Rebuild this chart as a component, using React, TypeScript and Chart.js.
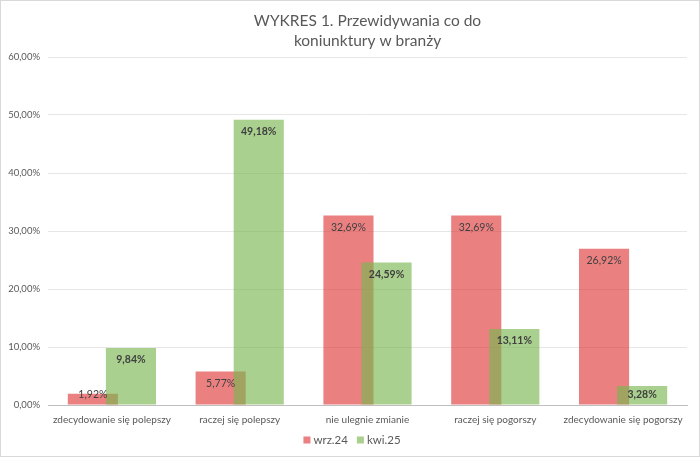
import React, { useEffect, useRef } from "react";
import { Chart, registerables } from "chart.js";

Chart.register(...registerables);

const categories = [
  "zdecydowanie się polepszy",
  "raczej się polepszy",
  "nie ulegnie zmianie",
  "raczej się pogorszy",
  "zdecydowanie się pogorszy",
];
const seriesNames = ["wrz.24", "kwi.25"];
const wrz24 = [1.92, 5.77, 32.69, 32.69, 26.92];
const kwi25 = [9.84, 49.18, 24.59, 13.11, 3.28];
const titleLines = ["WYKRES 1. Przewidywania co do", "koniunktury w branży"];
const yMax = 60;
const yStep = 10;

const FONT = "Lato, 'Open Sans', sans-serif";
const fmt = (v: number) => v.toFixed(2).replace(".", ",") + "%";

const titlePlugin = {
  id: "customTitle",
  afterDraw(chart: any) {
    const { ctx, chartArea } = chart;
    ctx.save();
    ctx.fillStyle = "#595959";
    ctx.font = `15.5px ${FONT}`;
    ctx.textAlign = "center";
    ctx.textBaseline = "middle";
    const cx = (chartArea.left + chartArea.right) / 2;
    titleLines.forEach((line, i) => ctx.fillText(line, cx, 20 + i * 20));
    ctx.restore();
  },
};

const legendPlugin = {
  id: "customLegend",
  afterDraw(chart: any) {
    const { ctx, width } = chart;
    ctx.save();
    ctx.font = `11.5px ${FONT}`;
    ctx.textBaseline = "middle";
    const box = 7;
    const gap = 3;
    const itemGap = 9;
    const y = 439;
    const items = chart.data.datasets.map((ds: any) => ({
      text: ds.label,
      color: ds.backgroundColor,
      w: box + gap + ctx.measureText(ds.label).width,
    }));
    const total = items.reduce((s: number, it: any) => s + it.w, 0) + itemGap * (items.length - 1);
    let x = width / 2 - total / 2 + 2;
    items.forEach((it: any) => {
      ctx.fillStyle = it.color;
      ctx.fillRect(x, y - box / 2, box, box);
      ctx.fillStyle = "#595959";
      ctx.fillText(it.text, x + box + gap, y);
      x += it.w + itemGap;
    });
    ctx.restore();
  },
};

// draw the second series after the first, so it lies on top of it
let drawingTop = false;
const topSeriesPlugin = {
  id: "topSeries",
  beforeDatasetDraw(chart: any, args: any) {
    if (args.index === 1 && !drawingTop) return false;
    return true;
  },
  afterDatasetsDraw(chart: any) {
    const meta = chart.getDatasetMeta(1);
    if (!meta || meta.hidden) return;
    drawingTop = true;
    meta.controller.draw();
    drawingTop = false;
  },
};

const labelPlugin = {
  id: "barLabels",
  afterDatasetsDraw(chart: any) {
    const { ctx } = chart;
    ctx.save();
    ctx.textAlign = "center";
    ctx.textBaseline = "middle";
    chart.data.datasets.forEach((ds: any, di: number) => {
      const meta = chart.getDatasetMeta(di);
      ctx.font = `${di === 1 ? "bold " : ""}10.5px ${FONT}`;
      ctx.fillStyle = "#404040";
      meta.data.forEach((bar: any, i: number) => {
        const y = Math.min(bar.y + 12, bar.base - 10);
        ctx.fillText(fmt(ds.data[i]), bar.x, y);
      });
    });
    ctx.restore();
  },
};

export default function App() {
  const ref = useRef<HTMLCanvasElement>(null);
  useEffect(() => {
    document.body.style.margin = "0";
    const chart = new Chart(ref.current!, {
      type: "bar",
      data: {
        labels: categories,
        datasets: [
          {
            label: seriesNames[0],
            data: wrz24,
            backgroundColor: "rgba(223,60,60,0.65)",
            categoryPercentage: 0.596,
            barPercentage: 1.316,
          },
          {
            label: seriesNames[1],
            data: kwi25,
            backgroundColor: "rgba(123,183,81,0.65)",
            categoryPercentage: 0.596,
            barPercentage: 1.316,
          },
        ],
      },
      options: {
        animation: false,
        responsive: true,
        maintainAspectRatio: false,
        layout: { padding: { top: 56, left: 0, right: 12, bottom: 21 } },
        plugins: {
          title: { display: false },
          tooltip: { enabled: false },
          legend: { display: false },
        },
        scales: {
          x: {
            grid: { display: false, drawTicks: false },
            border: { color: "#bfbfbf", width: 1 },
            ticks: {
              color: "#595959",
              font: { family: FONT, size: 10 },
              maxRotation: 0,
              autoSkip: false,
              padding: 9,
            },
          },
          y: {
            min: 0,
            max: yMax,
            grid: { color: "#e6e6e6", drawTicks: false },
            border: { display: false },
            afterFit: (scale: any) => {
              scale.width = 47;
            },
            ticks: {
              stepSize: yStep,
              color: "#595959",
              font: { family: FONT, size: 9.5 },
              padding: 8,
              callback: (v: any) => fmt(Number(v)),
            },
          },
        },
      },
      plugins: [titlePlugin, topSeriesPlugin, labelPlugin, legendPlugin],
    });
    return () => chart.destroy();
  }, []);
  return (
    <div
      style={{
        width: 700,
        height: 457,
        boxSizing: "border-box",
        border: "1px solid #d9d9d9",
        background: "#fff",
      }}
    >
      <div style={{ position: "relative", width: 698, height: 455 }}>
        <canvas ref={ref} />
      </div>
    </div>
  );
}
